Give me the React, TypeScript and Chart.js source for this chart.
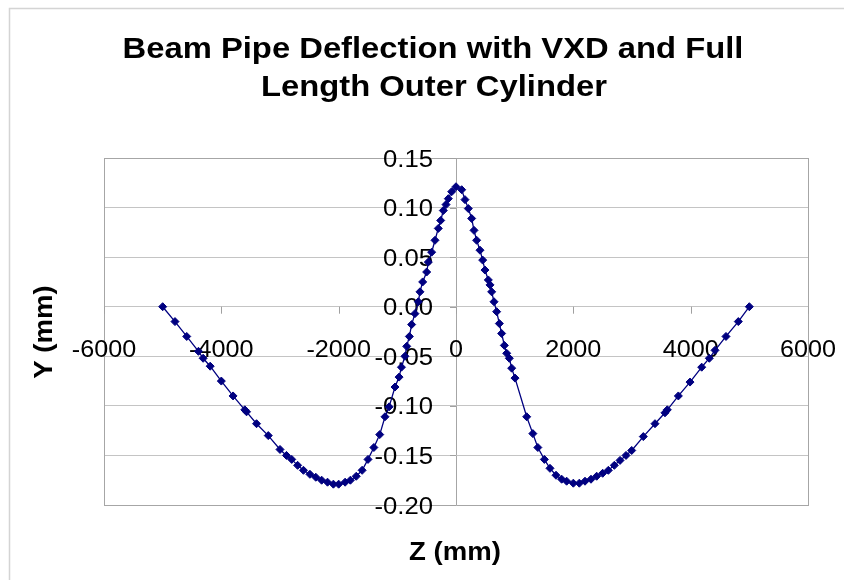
import React, { useEffect, useRef } from "react";
import { Chart, registerables } from "chart.js";

Chart.register(...registerables);

const titleLines = ["Beam Pipe Deflection with VXD and Full", "Length Outer Cylinder"];
const xTitle = "Z (mm)";
const yTitle = "Y (mm)";

const xTicks = [-6000, -4000, -2000, 0, 2000, 4000, 6000];
const yTicks = [0.15, 0.1, 0.05, 0.0, -0.05, -0.1, -0.15, -0.2];

const zValues = [
  -5000, -4790, -4590, -4390, -4310, -4190, -4000, -3800, -3600, -3570, -3400, -3200,
  -3000, -2890, -2800, -2700, -2600, -2490, -2390, -2290, -2190, -2090, -2000, -1890,
  -1800, -1700, -1600, -1500, -1400, -1300, -1210, -1140, -1040, -970, -930, -870,
  -840, -795, -756, -700, -642, -614, -568, -500, -472, -415, -358, -302, -261, -216,
  -170, -131, -74, 0,
  97, 153, 210, 267, 307, 352, 409, 455, 494, 551, 580, 608, 648, 693, 739, 778, 824,
  864, 909, 949, 1006, 1205, 1310, 1395, 1506, 1602, 1705, 1801, 1886, 2000, 2102,
  2199, 2301, 2398, 2500, 2597, 2699, 2796, 2898, 2995, 3193, 3392, 3562, 3602, 3790,
  3989, 4188, 4318, 4415, 4602, 4812, 5000,
];

const deflection = [
  0, -0.015, -0.03, -0.045, -0.052, -0.06, -0.075, -0.09, -0.104, -0.106, -0.118, -0.13,
  -0.144, -0.15, -0.154, -0.16, -0.165, -0.169, -0.172, -0.175, -0.177, -0.179, -0.179, -0.177,
  -0.175, -0.171, -0.165, -0.154, -0.142, -0.129, -0.111, -0.101, -0.081, -0.071, -0.061, -0.05,
  -0.04, -0.03, -0.018, -0.007, 0.005, 0.015, 0.025, 0.035, 0.045, 0.055, 0.067, 0.079, 0.087, 0.097,
  0.103, 0.109, 0.116, 0.121,
  0.118, 0.108, 0.099, 0.089, 0.077, 0.067, 0.057, 0.047, 0.037, 0.027, 0.022, 0.015, 0.005, -0.005,
  -0.017, -0.027, -0.039, -0.047, -0.052, -0.062, -0.072, -0.111, -0.128, -0.142, -0.154, -0.163,
  -0.17, -0.174, -0.176, -0.178, -0.178, -0.176, -0.174, -0.171, -0.168, -0.165, -0.16, -0.155,
  -0.15, -0.145, -0.131, -0.118, -0.107, -0.104, -0.09, -0.076, -0.061, -0.052, -0.044, -0.03,
  -0.015, 0,
];

const FONT = '"Liberation Sans", Arial, Helvetica, sans-serif';

function drawText(
  ctx: CanvasRenderingContext2D,
  s: string,
  x: number,
  y: number,
  font: string,
  align: CanvasTextAlign,
  sx: number,
  rot = 0
) {
  ctx.save();
  ctx.translate(x, y);
  if (rot) ctx.rotate(rot);
  ctx.scale(sx, 1);
  ctx.font = font;
  ctx.textAlign = align;
  ctx.textBaseline = "alphabetic";
  ctx.fillStyle = "#000";
  ctx.fillText(s, 0, 0);
  ctx.restore();
}

const decorPlugin = {
  id: "decor",
  beforeDraw(chart: any) {
    const ctx = chart.ctx as CanvasRenderingContext2D;
    ctx.save();
    ctx.fillStyle = "#fff";
    ctx.fillRect(0, 0, chart.width, chart.height);
    ctx.strokeStyle = "#d4d4d4";
    ctx.lineWidth = 1.5;
    ctx.beginPath();
    ctx.moveTo(9.5, chart.height);
    ctx.lineTo(9.5, 8.5);
    ctx.lineTo(chart.width, 8.5);
    ctx.stroke();
    ctx.restore();
  },
  beforeDatasetsDraw(chart: any) {
    const ctx = chart.ctx as CanvasRenderingContext2D;
    const xs = chart.scales.x;
    const ys = chart.scales.y;
    const x0 = xs.getPixelForValue(0);
    const y0 = ys.getPixelForValue(0);

    ctx.save();
    ctx.strokeStyle = "#a0a0a0";
    ctx.lineWidth = 1;
    ctx.beginPath();
    xTicks.forEach((v) => {
      const px = Math.round(xs.getPixelForValue(v)) + 0.5;
      ctx.moveTo(px, y0);
      ctx.lineTo(px, y0 + 7);
    });
    yTicks.forEach((v) => {
      const py = Math.round(ys.getPixelForValue(v)) + 0.5;
      ctx.moveTo(x0 - 6, py);
      ctx.lineTo(x0, py);
    });
    ctx.stroke();
    ctx.restore();

    const tickFont = `24px ${FONT}`;
    yTicks.forEach((v) => {
      const py = ys.getPixelForValue(v);
      drawText(ctx, v.toFixed(2), x0 - 23, py + 8.5, tickFont, "right", 1.07);
    });
    xTicks.forEach((v) => {
      const px = xs.getPixelForValue(v);
      drawText(ctx, String(v), px, y0 + 50, tickFont, "center", 1.05);
    });

    drawText(ctx, titleLines[0], 433, 58, `bold 29px ${FONT}`, "center", 1.13);
    drawText(ctx, titleLines[1], 434, 96, `bold 29px ${FONT}`, "center", 1.13);
    drawText(ctx, xTitle, 455, 560, `bold 26px ${FONT}`, "center", 1.06);
    drawText(ctx, yTitle, 52, 332, `bold 26px ${FONT}`, "center", 1.06, -Math.PI / 2);
  },
};

export default function App() {
  const ref = useRef<HTMLCanvasElement | null>(null);

  useEffect(() => {
    if (!ref.current) return;
    const points = zValues.map((z, i) => ({ x: z, y: deflection[i] }));
    const chart = new Chart(ref.current, {
      type: "scatter",
      data: {
        datasets: [
          {
            label: "Deflection",
            data: points,
            showLine: true,
            borderColor: "#000080",
            borderWidth: 1.3,
            backgroundColor: "#000080",
            pointBackgroundColor: "#000080",
            pointBorderColor: "#000080",
            pointStyle: "rectRot",
            pointRadius: 4,
            pointBorderWidth: 1,
            tension: 0,
          },
        ],
      },
      options: {
        animation: false,
        responsive: false,
        devicePixelRatio: 1,
        layout: {
          autoPadding: false,
          padding: { left: 104, top: 158, right: 36, bottom: 75 },
        },
        plugins: {
          legend: { display: false },
          title: { display: false },
          tooltip: { enabled: false },
        },
        scales: {
          x: {
            type: "linear",
            min: -6000,
            max: 6000,
            afterBuildTicks: (s: any) => {
              s.ticks = xTicks.map((v) => ({ value: v }));
            },
            ticks: { display: false },
            grid: {
              drawTicks: false,
              lineWidth: 1,
              color: (c: any) =>
                c.tick && (c.tick.value === 0 || c.tick.value === 6000 || c.tick.value === -6000)
                  ? "#a6a6a6"
                  : "rgba(0,0,0,0)",
            },
            border: { display: true, color: "#a6a6a6", width: 1 },
          },
          y: {
            type: "linear",
            min: -0.2,
            max: 0.15,
            afterBuildTicks: (s: any) => {
              s.ticks = yTicks.map((v) => ({ value: v }));
            },
            ticks: { display: false },
            grid: {
              drawTicks: false,
              lineWidth: 1,
              color: (c: any) =>
                c.tick && Math.abs(c.tick.value - 0.15) < 1e-9 ? "#a6a6a6" : "#c4c4c4",
            },
            border: { display: true, color: "#a6a6a6", width: 1 },
          },
        },
      },
      plugins: [decorPlugin],
    });
    return () => chart.destroy();
  }, []);

  return (
    <div style={{ position: "fixed", left: 0, top: 0, width: 844, height: 580, background: "#fff" }}>
      <canvas ref={ref} width={844} height={580} style={{ width: 844, height: 580, display: "block" }} />
    </div>
  );
}
